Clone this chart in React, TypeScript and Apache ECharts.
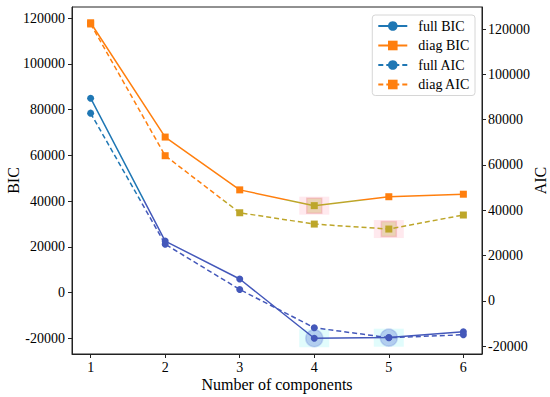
import React, { useEffect, useRef } from "react";
import * as echarts from "echarts";

const components = [1, 2, 3, 4, 5, 6];
const fullBIC = [85000, 22500, 5900, -20000, -19700, -17200];
const diagBIC = [118000, 68000, 44900, 38000, 41900, 43000];
const fullAIC = [82900, 25000, 5000, -11900, -16300, -15000];
const diagAIC = [122300, 64100, 38900, 33900, 31700, 37900];
const bicTicks = [-20000, 0, 20000, 40000, 60000, 80000, 100000, 120000];
const aicTicks = [-20000, 0, 20000, 40000, 60000, 80000, 100000, 120000];
const xTicks = [1, 2, 3, 4, 5, 6];

const FONT = "'Liberation Serif', 'Times New Roman', serif";
const BLUE = "#1f77b4";
const ORANGE = "#ff7f0e";
const BLUE_T = "#4458ba";
const ORANGE_T = "#bda62a";

const pairs = (ys: number[]) => components.map((x, i) => [x, ys[i]]);
const argmin = (ys: number[]) => ys.indexOf(Math.min(...ys));

export default function App() {
  const ref = useRef<HTMLDivElement>(null);
  useEffect(() => {
    if (!ref.current) return;
    const chart = echarts.init(ref.current, null, { renderer: "svg" });
    const mkLine = (name: string, data: number[], yIdx: number, color: string, dashed: boolean, sym: string) => ({
      name,
      type: "line",
      yAxisIndex: yIdx,
      data: pairs(data),
      symbol: sym,
      symbolSize: 7,
      z: 5,
      color,
      lineStyle: { width: 1.5, type: dashed ? [5, 3] : "solid" },
    });
    const halo = (data: number[], yIdx: number, kind: "circle" | "rect") => {
      const i = argmin(data);
      const pt = [[components[i], data[i]]];
      return [
        {
          type: "scatter",
          yAxisIndex: yIdx,
          data: pt,
          symbol: "rect",
          symbolSize: [30, 18],
          z: 1,
          silent: true,
          itemStyle: {
            color: kind === "circle" ? "rgba(205,250,250,0.75)" : "rgba(255,215,225,0.7)",
          },
        },
        {
          type: "scatter",
          yAxisIndex: yIdx,
          data: pt,
          symbol: kind,
          symbolSize: kind === "circle" ? 17 : 15,
          z: 2,
          silent: true,
          itemStyle: {
            color: kind === "circle" ? "rgba(80,110,210,0.4)" : "rgba(200,170,80,0.45)",
            borderColor: kind === "circle" ? "rgba(80,110,210,0.3)" : "rgba(240,160,170,0.6)",
            borderWidth: 1.5,
          },
        },
      ];
    };
    const vm = (seriesIndex: number, thr: number, base: string, tint: string) => ({
      type: "piecewise",
      show: false,
      seriesIndex,
      dimension: 1,
      pieces: [
        { gte: -100000, lt: thr, color: tint },
        { gte: thr, lte: 200000, color: base },
      ],
    });
    const labelStyle = {
      fontFamily: FONT,
      fontSize: 14,
      color: "#000",
      formatter: (v: number) => `{t|${v}}`,
      rich: { t: { fontFamily: FONT, fontSize: 14, color: "#000" } },
    };
    const nameStyle = { fontFamily: FONT, fontSize: 16, color: "#000" };
    const yAxisCommon = (ticks: number[], margin: number) => ({
      type: "value",
      splitNumber: 8,
      nameLocation: "middle",
      nameMoveOverlap: false,
      nameTextStyle: nameStyle,
      axisLine: { show: true, lineStyle: { color: "#222", width: 1 } },
      axisTick: { show: true, customValues: ticks, length: 4, lineStyle: { color: "#222" } },
      axisLabel: { margin, showMinLabel: false, showMaxLabel: false, ...labelStyle },
      splitLine: { show: false },
    });
    chart.setOption({
      animation: false,
      textStyle: { fontFamily: FONT, color: "#000" },
      grid: {
        left: 72,
        right: 68,
        top: 7,
        bottom: 43,
        outerBoundsMode: "none",
        containLabel: false,
        show: true,
        borderColor: "#222",
        borderWidth: 1,
      },
      legend: {
        data: ["full BIC", "diag BIC", "full AIC", "diag AIC"],
        orient: "vertical",
        right: 75,
        top: 15,
        backgroundColor: "rgba(255,255,255,0.85)",
        borderColor: "#d6d6d6",
        borderWidth: 1,
        borderRadius: 3,
        padding: [4, 5, 4, 5],
        itemWidth: 29,
        itemHeight: 12,
        itemGap: 5.5,
        textStyle: { fontFamily: FONT, fontSize: 14, color: "#000", lineHeight: 14, padding: [0, 0, 0, 6] },
      },
      visualMap: [
        vm(0, 40500, BLUE, BLUE_T),
        vm(1, 40500, ORANGE, ORANGE_T),
        vm(2, 44500, BLUE, BLUE_T),
        vm(3, 44500, ORANGE, ORANGE_T),
      ],
      xAxis: {
        type: "value",
        min: 0.75,
        max: 6.25,
        splitNumber: 6,
        name: "Number of components",
        nameLocation: "middle",
        nameMoveOverlap: false,
        nameGap: 22,
        nameTextStyle: nameStyle,
        axisLine: { onZero: false, lineStyle: { color: "#222", width: 1 } },
        axisTick: { customValues: xTicks, length: 4, lineStyle: { color: "#222" } },
        axisLabel: { margin: 6, showMinLabel: false, showMaxLabel: false, ...labelStyle },
        splitLine: { show: false },
      },
      yAxis: [
        { ...yAxisCommon(bicTicks, 7), min: -26900, max: 124900, position: "left", name: "BIC", nameGap: 51 },
        { ...yAxisCommon(aicTicks, 6), min: -23500, max: 129800, position: "right", name: "AIC", nameGap: 50 },
      ],
      series: [
        mkLine("full BIC", fullBIC, 0, BLUE, false, "circle"),
        mkLine("diag BIC", diagBIC, 0, ORANGE, false, "rect"),
        mkLine("full AIC", fullAIC, 1, BLUE, true, "circle"),
        mkLine("diag AIC", diagAIC, 1, ORANGE, true, "rect"),
        ...halo(fullBIC, 0, "circle"),
        ...halo(fullAIC, 1, "circle"),
        ...halo(diagBIC, 0, "rect"),
        ...halo(diagAIC, 1, "rect"),
      ],
    });
    return () => chart.dispose();
  }, []);
  return <div ref={ref} style={{ width: 550, height: 397, position: "absolute", left: 0, top: 0 }} />;
}
